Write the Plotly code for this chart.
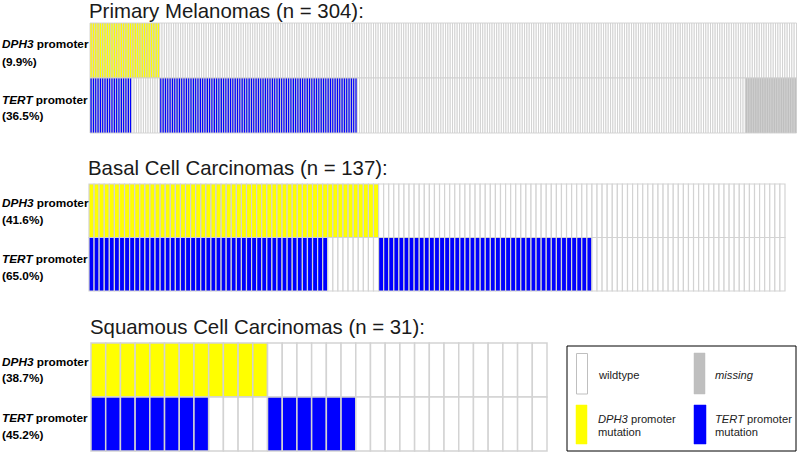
import plotly.graph_objects as go

W, H = 798, 453

# ---------------- data ----------------
titles = ["Primary Melanomas (n = 304):",
          "Basal Cell Carcinomas (n = 137):",
          "Squamous Cell Carcinomas (n = 31):"]
dph3_pct = ["(9.9%)", "(41.6%)", "(38.7%)"]
tert_pct = ["(36.5%)", "(65.0%)", "(45.2%)"]

# run-length encoded sample status per row: M = mutated, W = wildtype, N = missing
mel_dph3 = [("M", 30), ("W", 274)]
mel_tert = [("M", 18), ("W", 12), ("M", 85), ("W", 167), ("N", 22)]
bcc_dph3 = [("M", 57), ("W", 80)]
bcc_tert = [("M", 47), ("W", 10), ("M", 42), ("W", 38)]
scc_dph3 = [("M", 12), ("W", 19)]
scc_tert = [("M", 8), ("W", 4), ("M", 6), ("W", 13)]

# ---------------- styling / layout ----------------
YELLOW = "#FFFF00"
BLUE = "#0000FF"
WHITE = "#FFFFFF"
MISSING = "#BFBFBF"
BORDER = "#D3D3D3"

panels = [
    dict(dph3=mel_dph3, tert=mel_tert, L=90, R=797, T=23, B=133, lw=0.9, border="#CFCFCF",
         title_y=10.5, lab=(44, 61.5, 100, 116)),
    dict(dph3=bcc_dph3, tert=bcc_tert, L=89, R=785, T=184, B=291, lw=1.2, border=BORDER,
         title_y=168, lab=(203, 220, 259, 276)),
    dict(dph3=scc_dph3, tert=scc_tert, L=91, R=547, T=343, B=451, lw=1.5, border=BORDER,
         title_y=327, lab=(362, 378, 418, 435)),
]


def expand(runs):
    out = []
    for s, c in runs:
        out += [s] * c
    return out


def px_x(p):
    return p / W


def px_y(p):
    return 1 - p / H


fig = go.Figure()
layout = dict(
    width=W, height=H, margin=dict(l=0, r=0, t=0, b=0),
    paper_bgcolor="white", plot_bgcolor="rgba(0,0,0,0)",
    barmode="overlay", bargap=0, showlegend=False,
)
annotations = []
shapes = []

TITLE_FONT = dict(family="Liberation Sans, Arial", size=20.4, color="#1a1a1a")
LAB_FONT = dict(family="Liberation Sans, Arial", size=11.8, color="#000000")

for i, p in enumerate(panels, start=1):
    d = expand(p["dph3"])
    t = expand(p["tert"])
    n = len(d)
    cw = (p["R"] - p["L"]) / n
    rh = (p["B"] - p["T"]) / 2
    padx = 1.5 / cw
    pady = 1.5 / rh
    xa = "x" if i == 1 else f"x{i}"
    ya = "y" if i == 1 else f"y{i}"
    layout["xaxis" if i == 1 else f"xaxis{i}"] = dict(
        domain=[px_x(p["L"] - 1.5), px_x(min(p["R"] + 1.5, W))],
        range=[-0.5 - padx, n - 0.5 + padx], visible=False, anchor=ya, fixedrange=True)
    layout["yaxis" if i == 1 else f"yaxis{i}"] = dict(
        domain=[px_y(p["B"] + 1.5), px_y(p["T"] - 1.5)],
        range=[-pady, 2 + pady], visible=False, anchor=xa, fixedrange=True)

    for statuses, base, mcol in ((d, 1, YELLOW), (t, 0, BLUE)):
        cols = [mcol if s == "M" else (WHITE if s == "W" else MISSING) for s in statuses]
        fig.add_trace(go.Bar(
            x=list(range(n)), y=[1] * n, base=[base] * n, width=1,
            marker=dict(color=cols, line=dict(color=p["border"], width=p["lw"])),
            xaxis=xa, yaxis=ya, hoverinfo="skip"))

    annotations.append(dict(
        text=titles[i - 1], x=px_x(p["L"] - 2), y=px_y(p["title_y"]), xref="paper", yref="paper",
        xanchor="left", yanchor="middle", showarrow=False, font=TITLE_FONT, borderpad=0))
    ly = p["lab"]
    for txt, yy in (("<b><i>DPH3</i> promoter</b>", ly[0]), (f"<b>{dph3_pct[i-1]}</b>", ly[1]),
                    ("<b><i>TERT</i> promoter</b>", ly[2]), (f"<b>{tert_pct[i-1]}</b>", ly[3])):
        annotations.append(dict(
            text=txt, x=0, y=px_y(yy), xref="paper", yref="paper",
            xanchor="left", yanchor="middle", showarrow=False, font=LAB_FONT))

# ---------------- legend box ----------------
def rect(x0, y0, x1, y1, fill, line_color, lw):
    shapes.append(dict(type="rect", xref="paper", yref="paper",
                       x0=px_x(x0), x1=px_x(x1), y0=px_y(y1), y1=px_y(y0),
                       fillcolor=fill, line=dict(color=line_color, width=lw)))

rect(567, 346, 796, 451, "white", "#000000", 1)
rect(576.5, 353.5, 587.5, 394, WHITE, "#BFBFBF", 1)
rect(694, 353, 705, 394, MISSING, MISSING, 0.5)
rect(576, 405, 587, 444, YELLOW, YELLOW, 0.5)
rect(694, 405, 706, 444, BLUE, BLUE, 0.5)

LEG_FONT = dict(family="Liberation Sans, Arial", size=11.2, color="#222222")
for txt, xx, yy in (("wildtype", 596, 375), ("<i>missing</i>", 713, 375),
                    ("<i>DPH3</i> promoter", 596, 419), ("mutation", 596, 432),
                    ("<i>TERT</i> promoter", 713, 419), ("mutation", 713, 432)):
    annotations.append(dict(text=txt, x=px_x(xx), y=px_y(yy), xref="paper", yref="paper",
                            xanchor="left", yanchor="middle", showarrow=False, font=LEG_FONT))

layout["annotations"] = annotations
layout["shapes"] = shapes
fig.update_layout(**layout)
fig.write_html("out.html",
               config={"displayModeBar": False, "staticPlot": True},
               post_script="document.body.style.margin='0';document.body.style.overflow='hidden';")
